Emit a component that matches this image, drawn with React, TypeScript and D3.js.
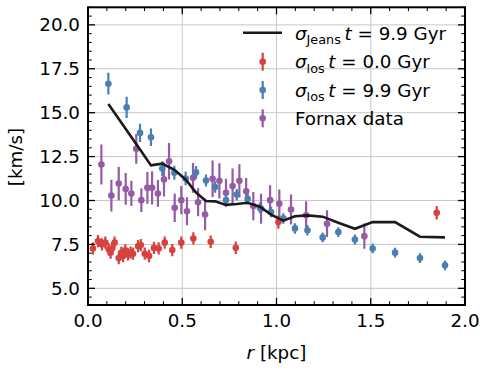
import React from "react";
import * as d3 from "d3";

// ---- data ----
const jeansR = [0.108, 0.205, 0.276, 0.334, 0.394, 0.458, 0.518, 0.573, 0.626, 0.674, 0.732, 0.789, 0.847, 0.912, 0.971, 1.036, 1.098, 1.164, 1.245, 1.328, 1.416, 1.51, 1.629, 1.761, 1.894];
const jeansSigma = [15.5, 14.0, 12.9, 12.0, 12.1, 11.75, 11.2, 10.45, 9.97, 9.95, 9.75, 9.8, 9.87, 9.65, 9.2, 8.85, 9.1, 9.15, 9.08, 8.73, 8.39, 8.77, 8.77, 7.94, 7.9];

const redR = [0.026, 0.053, 0.074, 0.092, 0.110, 0.120, 0.127, 0.141, 0.163, 0.177, 0.186, 0.198, 0.212, 0.226, 0.239, 0.266, 0.280, 0.301, 0.324, 0.350, 0.375, 0.407, 0.447, 0.495, 0.559, 0.651, 0.784, 1.01, 1.85];
const redSigma = [7.27, 7.69, 7.5, 7.6, 7.22, 7.03, 7.27, 7.6, 6.72, 7.03, 6.84, 7.16, 6.93, 7.03, 6.97, 7.4, 7.46, 6.97, 6.84, 7.3, 7.27, 7.6, 7.18, 7.6, 7.84, 7.65, 7.31, 8.77, 9.3];
const redErr = [0.35, 0.35, 0.35, 0.35, 0.35, 0.35, 0.35, 0.35, 0.35, 0.35, 0.35, 0.35, 0.35, 0.35, 0.35, 0.35, 0.35, 0.35, 0.35, 0.35, 0.35, 0.35, 0.35, 0.35, 0.35, 0.35, 0.35, 0.38, 0.38];

const blueR = [0.108, 0.205, 0.276, 0.334, 0.394, 0.458, 0.518, 0.573, 0.626, 0.674, 0.732, 0.789, 0.847, 0.912, 0.971, 1.036, 1.098, 1.164, 1.245, 1.328, 1.416, 1.51, 1.629, 1.761, 1.894];
const blueSigma = [16.65, 15.3, 13.85, 13.6, 11.82, 11.58, 11.25, 11.6, 11.14, 10.77, 10.03, 10.34, 10.1, 9.58, 9.34, 8.98, 8.41, 8.31, 7.9, 8.2, 7.78, 7.27, 7.03, 6.72, 6.31];
const blueErr = [0.62, 0.6, 0.52, 0.5, 0.42, 0.4, 0.38, 0.36, 0.34, 0.33, 0.32, 0.32, 0.31, 0.3, 0.3, 0.3, 0.3, 0.3, 0.28, 0.28, 0.28, 0.28, 0.28, 0.28, 0.28];

const fornaxR = [0.071, 0.124, 0.163, 0.2, 0.23, 0.256, 0.283, 0.315, 0.34, 0.371, 0.403, 0.43, 0.46, 0.495, 0.525, 0.557, 0.584, 0.621, 0.661, 0.697, 0.732, 0.767, 0.803, 0.839, 0.877, 0.918, 0.966, 1.015, 1.077, 1.157, 1.268, 1.466];
const fornaxSigma = [12.05, 10.28, 10.97, 10.66, 10.4, 12.94, 10.02, 10.72, 10.72, 10.4, 11.2, 12.23, 9.58, 10.02, 9.39, 11.29, 9.9, 9.2, 11.24, 11.12, 10.44, 10.82, 11.12, 10.53, 9.68, 9.53, 10.02, 9.81, 9.49, 9.16, 8.68, 7.97];
const fornaxErr = [1.14, 0.9, 0.95, 0.9, 0.72, 0.85, 0.68, 0.9, 0.95, 0.76, 0.97, 1.04, 0.8, 0.8, 0.8, 0.85, 0.8, 0.9, 1.04, 1.0, 0.8, 1.0, 0.95, 0.75, 0.8, 0.85, 0.85, 0.82, 0.85, 0.8, 0.76, 0.72];

const xMajor = [0, 0.5, 1.0, 1.5, 2.0];
const yMajor = [5, 7.5, 10, 12.5, 15, 17.5, 20];

const RED = "#d7413f";
const BLUE = "#4a7fb2";
const PURPLE = "#955ba5";

export default function App() {
  const W = 489, H = 372;
  const left = 88, right = 465, top = 7.3, bottom = 305;
  const x = d3.scaleLinear().domain([0, 2]).range([left, right]);
  const y = d3.scaleLinear().domain([4.05, 21.0]).range([bottom, top]);
  const fs = 18.3;
  const font = "DejaVu Sans, sans-serif";

  const xMinor = d3.range(0, 2.0001, 0.1).filter((v) => !xMajor.some((m) => Math.abs(m - v) < 1e-6));
  const yMinor = d3.range(4.5, 21.0001, 0.5).filter((v) => !yMajor.some((m) => Math.abs(m - v) < 1e-6));

  const line = d3.line<number>().x((_, i) => x(jeansR[i])).y((v) => y(v));

  const series = (rs: number[], ss: number[], es: number[], color: string, key: string) =>
    rs.map((r, i) => (
      <g key={key + i}>
        <line x1={x(r)} x2={x(r)} y1={y(ss[i] - es[i])} y2={y(ss[i] + es[i])} stroke={color} strokeWidth={2.2} />
        <circle cx={x(r)} cy={y(ss[i])} r={3.3} fill={color} />
      </g>
    ));

  const majLen = 7, minLen = 3.8;

  return (
    <svg width={W} height={H} style={{ position: "absolute", left: 0, top: 0, background: "#fff" }} fontFamily={font}>
      <defs>
        <clipPath id="clip">
          <rect x={left} y={top} width={right - left} height={bottom - top} />
        </clipPath>
      </defs>
      {/* grid */}
      {xMajor.map((v) => (
        <line key={"gx" + v} x1={x(v)} x2={x(v)} y1={top} y2={bottom} stroke="#c8c8c8" strokeWidth={1} />
      ))}
      {yMajor.map((v) => (
        <line key={"gy" + v} x1={left} x2={right} y1={y(v)} y2={y(v)} stroke="#c8c8c8" strokeWidth={1} />
      ))}
      <g clipPath="url(#clip)">
        {series(fornaxR, fornaxSigma, fornaxErr, PURPLE, "f")}
        {series(redR, redSigma, redErr, RED, "r")}
        {series(blueR, blueSigma, blueErr, BLUE, "b")}
        <path d={line(jeansSigma) || ""} fill="none" stroke="#1a1a1a" strokeWidth={2.6} />
      </g>
      {/* ticks */}
      {xMajor.map((v) => (
        <g key={"tx" + v}>
          <line x1={x(v)} x2={x(v)} y1={bottom} y2={bottom - majLen} stroke="#000" strokeWidth={1.3} />
          <line x1={x(v)} x2={x(v)} y1={top} y2={top + majLen} stroke="#000" strokeWidth={1.3} />
          <text x={x(v)} y={326.5} fontSize={fs} textAnchor="middle">{v.toFixed(1)}</text>
        </g>
      ))}
      {xMinor.map((v) => (
        <g key={"mx" + v}>
          <line x1={x(v)} x2={x(v)} y1={bottom} y2={bottom - minLen} stroke="#000" strokeWidth={1} />
          <line x1={x(v)} x2={x(v)} y1={top} y2={top + minLen} stroke="#000" strokeWidth={1} />
        </g>
      ))}
      {yMajor.map((v) => (
        <g key={"ty" + v}>
          <line x1={left} x2={left + majLen} y1={y(v)} y2={y(v)} stroke="#000" strokeWidth={1.3} />
          <line x1={right} x2={right - majLen} y1={y(v)} y2={y(v)} stroke="#000" strokeWidth={1.3} />
          <text x={80} y={y(v)} dy="0.36em" fontSize={fs} textAnchor="end">{v.toFixed(1)}</text>
        </g>
      ))}
      {yMinor.map((v) => (
        <g key={"my" + v}>
          <line x1={left} x2={left + minLen} y1={y(v)} y2={y(v)} stroke="#000" strokeWidth={1} />
          <line x1={right} x2={right - minLen} y1={y(v)} y2={y(v)} stroke="#000" strokeWidth={1} />
        </g>
      ))}
      {/* frame */}
      <rect x={left} y={top} width={right - left} height={bottom - top} fill="none" stroke="#000" strokeWidth={2} />
      {/* axis labels */}
      <text x={(left + right) / 2} y={358.5} fontSize={fs} textAnchor="middle">
        <tspan fontStyle="italic">r</tspan> [kpc]
      </text>
      <text transform="translate(22,157) rotate(-90)" fontSize={fs} textAnchor="middle">[km/s]</text>
      {/* legend */}
      <g>
        <line x1={243} x2={282} y1={32.7} y2={32.7} stroke="#1a1a1a" strokeWidth={2.6} />
        <text x={295} y={39.5} fontSize={fs}>
          <tspan fontStyle="italic">σ</tspan>
          <tspan fontSize={12.8} dy={4.5}>Jeans</tspan>
          <tspan dy={-4.5} fontStyle="italic">{"\u2009t"}</tspan>
          <tspan>{" = 9.9 Gyr"}</tspan>
        </text>
        {[
          { c: RED, t: "0.0", yy: 61.7, label: null },
          { c: BLUE, t: "9.9", yy: 90, label: null },
          { c: PURPLE, t: "", yy: 118.3, label: "Fornax data" },
        ].map((e, i) => (
          <g key={"lg" + i}>
            <line x1={262.7} x2={262.7} y1={e.yy - 9} y2={e.yy + 9} stroke={e.c} strokeWidth={2.2} />
            <circle cx={262.7} cy={e.yy} r={3.3} fill={e.c} />
            {e.label ? (
              <text x={295} y={e.yy + 6.7} fontSize={fs}>{e.label}</text>
            ) : (
              <text x={295} y={e.yy + 6.7} fontSize={fs}>
                <tspan fontStyle="italic">σ</tspan>
                <tspan fontSize={12.8} dy={4.5}>los</tspan>
                <tspan dy={-4.5} fontStyle="italic">{"\u2009t"}</tspan>
                <tspan>{` = ${e.t} Gyr`}</tspan>
              </text>
            )}
          </g>
        ))}
      </g>
    </svg>
  );
}
